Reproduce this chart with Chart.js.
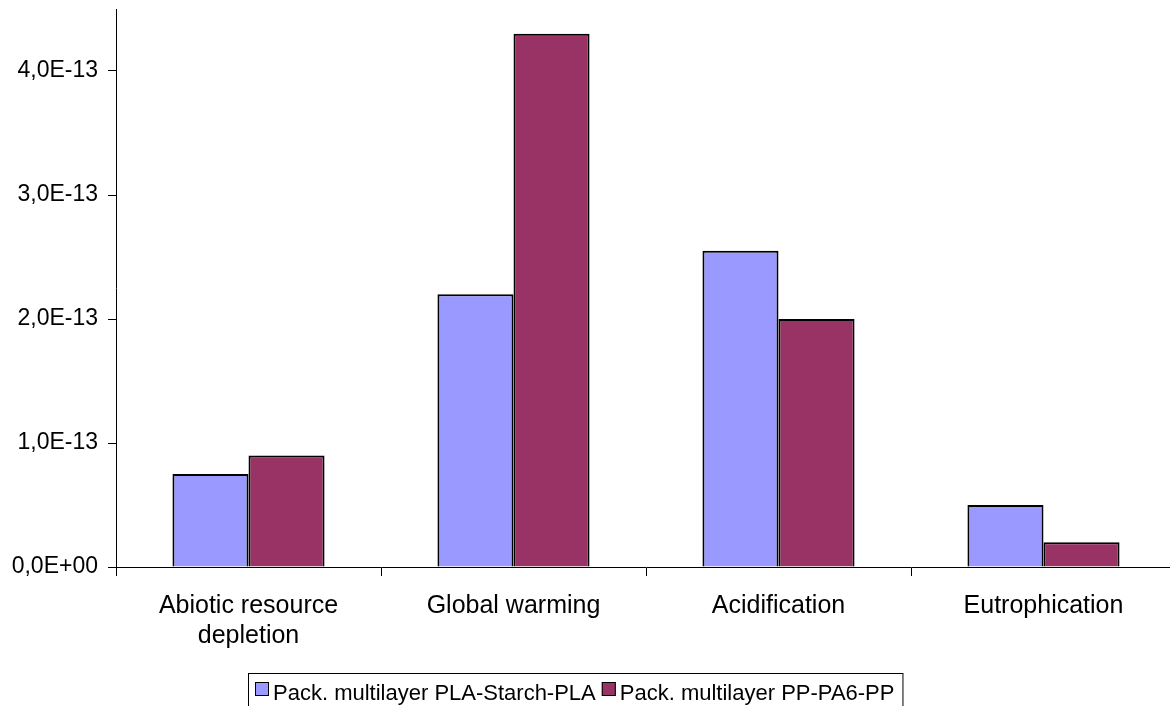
<!DOCTYPE html>
<html>
<head>
<meta charset="utf-8">
<script src="https://cdn.jsdelivr.net/npm/chart.js@4/dist/chart.umd.min.js"></script>
<style>
  html, body { margin: 0; padding: 0; background: #fff; }
  #outer { width: 1170px; height: 706px; overflow: hidden; position: relative; }
  #wrap { width: 1185px; height: 706px; position: absolute; left: 0; top: 0; }
</style>
</head>
<body>
<div id="outer"><div id="wrap"><canvas id="c"></canvas></div></div>
<script>
const categories = [['Abiotic resource', 'depletion'], 'Global warming', 'Acidification', 'Eutrophication'];
const seriesNames = ['Pack. multilayer PLA-Starch-PLA', 'Pack. multilayer PP-PA6-PP'];
const plaValues = [7.5e-14, 2.2e-13, 2.55e-13, 5.0e-14];
const ppValues = [9.0e-14, 4.3e-13, 2.0e-13, 2.0e-14];
const yTickValues = [0, 1e-13, 2e-13, 3e-13, 4e-13];
const yTickLabels = ['0,0E+00', '1,0E-13', '2,0E-13', '3,0E-13', '4,0E-13'];
const yMax = 4.5e-13;
const colors = ['#9999FF', '#993366'];

const FONT = '"Liberation Sans", Arial, sans-serif';

const legendPlugin = {
  id: 'boxLegend',
  afterDraw(chart) {
    const ctx = chart.ctx;
    ctx.save();
    ctx.font = '22px ' + FONT;
    ctx.textBaseline = 'alphabetic';
    ctx.fillStyle = '#000';
    const left = 248, top = 673;
    let x = left + 7;
    const items = chart.data.datasets;
    const positions = [];
    items.forEach((ds, i) => {
      positions.push(x);
      const w = ctx.measureText(ds.label).width;
      x += 18 + w + 6;
    });
    const right = x + 2;
    ctx.lineWidth = 1;
    ctx.strokeStyle = '#000';
    ctx.strokeRect(left + 0.5, top + 0.5, right - left, 50);
    items.forEach((ds, i) => {
      const px = positions[i];
      ctx.fillStyle = ds.backgroundColor;
      ctx.fillRect(px, 682, 14, 14);
      ctx.strokeStyle = '#000';
      ctx.strokeRect(px + 0.5, 682.5, 13, 13);
      ctx.fillStyle = '#000';
      ctx.fillText(ds.label, px + 18, 700);
    });
    ctx.restore();
  }
};

new Chart(document.getElementById('c'), {
  type: 'bar',
  data: {
    labels: categories,
    datasets: [
      { label: seriesNames[0], data: plaValues, backgroundColor: colors[0], borderColor: '#000', borderWidth: 2 },
      { label: seriesNames[1], data: ppValues, backgroundColor: colors[1], borderColor: '#000', borderWidth: 2 }
    ]
  },
  options: {
    responsive: true,
    maintainAspectRatio: false,
    animation: false,
    devicePixelRatio: 1,
    layout: { padding: { top: 9, right: 9, left: 0, bottom: 0 } },
    datasets: { bar: { categoryPercentage: 0.574, barPercentage: 1.0 } },
    plugins: { legend: { display: false }, tooltip: { enabled: false } },
    scales: {
      x: {
        grid: { display: true, drawOnChartArea: false, drawTicks: true, tickLength: 9, color: '#000', offset: true },
        border: { display: true, color: '#000', width: 1 },
        ticks: { color: '#000', font: { family: FONT, size: 25, lineHeight: 1.2 }, padding: 15, maxRotation: 0, autoSkip: false },
        afterFit(scale) { scale.height = 139; }
      },
      y: {
        min: 0,
        max: yMax,
        grid: { display: true, drawOnChartArea: false, drawTicks: true, tickLength: 8, color: '#000' },
        border: { display: true, color: '#000', width: 1 },
        afterBuildTicks(scale) { scale.ticks = yTickValues.map(v => ({ value: v })); },
        ticks: {
          color: '#000',
          font: { family: FONT, size: 23 },
          padding: 10,
          callback: (v, i) => yTickLabels[i]
        },
        afterFit(scale) { scale.width = 116; scale.paddingTop = 0; scale.paddingBottom = 0; }
      }
    }
  },
  plugins: [legendPlugin]
});
</script>
</body>
</html>
